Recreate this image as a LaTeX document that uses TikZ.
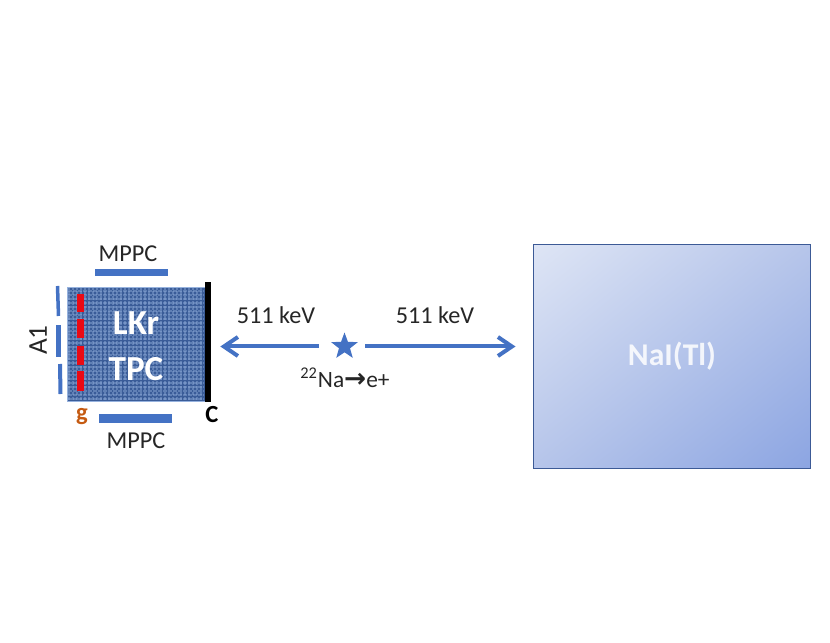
\documentclass[tikz,border=0pt]{standalone}
\usepackage{fontspec}
\setmainfont{Carlito}
\newfontfamily\pfeilfont{DejaVu Sans}
\usetikzlibrary{arrows.meta,shapes.geometric,shadings}
\definecolor{balken}{RGB}{68,114,196}
\definecolor{kasten}{RGB}{58,92,152}
\definecolor{gewebe}{RGB}{150,178,222}
\definecolor{rahmen}{RGB}{60,90,150}
\definecolor{hell}{RGB}{222,229,245}
\definecolor{mittel}{RGB}{182,197,234}
\definecolor{dunkel}{RGB}{140,165,226}
\definecolor{rot}{RGB}{235,10,20}
\definecolor{orange}{RGB}{197,90,17}
\definecolor{schrift}{RGB}{38,38,38}
\tikzset{
  beschriftung/.style={text=schrift, font=\fontsize{13.8}{16}\selectfont, inner sep=0pt},
  gewebelinie/.style={gewebe, opacity=0.42, line width=0.03cm, dash pattern=on 0.07cm off 0.03cm},
  pfeil/.style={balken, line width=0.08cm, -{Straight Barb[length=0.28cm,width=0.38cm,line width=0.08cm]}}
}
\begin{document}
\begin{tikzpicture}
    \useasboundingbox (0,0) rectangle (16.6,12.84);

    % TPC Kasten
    \node[fill=kasten, draw=gewebe, line width=0.1pt, minimum width=2.76cm, minimum height=2.28cm, inner sep=0pt] (tpc) at (2.72,5.96) {};
    \foreach \x in {1.38,1.46,...,4.08} {
        \draw[gewebelinie] (\x,4.84) -- (\x,7.08);
    }
    \foreach \y in {4.86,4.94,...,7.08} {
        \draw[gewebelinie] (1.36,\y) -- (4.08,\y);
    }

    % Kathode
    \node[fill=black, minimum width=0.12cm, minimum height=2.40cm, inner sep=0pt] (kathode) at (4.16,6.00) {};

    % Gitter
    \foreach \ya/\yb in {6.96/6.60, 6.45/6.07, 5.93/5.54, 5.43/5.02} {
        \fill[rot] (1.54,\ya) rectangle (1.68,\yb);
    }

    % MPPC Balken
    \fill[balken] (1.90,7.46) rectangle (3.36,7.32);
    \fill[balken] (1.98,4.56) rectangle (3.44,4.38);

    % A1 Balken
    \draw[balken, line width=0.07cm] (1.15,7.12) -- (1.17,6.52);
    \draw[balken, line width=0.10cm] (1.17,6.34) -- (1.17,5.70);
    \draw[balken, line width=0.08cm] (1.20,5.56) -- (1.21,4.96);

    % Beschriftungen
    \node[text=white, font=\fontsize{20}{24}\selectfont\bfseries, inner sep=0pt] (lkr) at (2.72,6.38) {LKr};
    \node[text=white, font=\fontsize{20}{24}\selectfont\bfseries, inner sep=0pt] (tpclabel) at (2.72,5.46) {TPC};
    \node[beschriftung] (mppcoben) at (2.56,7.76) {MPPC};
    \node[beschriftung] (mppcunten) at (2.72,4.02) {MPPC};
    \node[beschriftung, rotate=90, font=\fontsize{15.5}{18}\selectfont] (aeins) at (0.76,6.04) {A1};
    \node[text=orange, font=\fontsize{14}{16}\selectfont\bfseries, inner sep=0pt] (gitter) at (1.64,4.50) {g};
    \node[text=black, font=\fontsize{14}{16}\selectfont\bfseries, inner sep=0pt] (ckat) at (4.24,4.54) {C};

    % NaI Kasten
    \shade[upper left=hell, upper right=mittel, lower left=mittel, lower right=dunkel] (10.66,3.48) rectangle (16.20,7.94);
    \node[draw=rahmen, line width=0.02cm, minimum width=5.54cm, minimum height=4.46cm, inner sep=0pt] (nai) at (13.43,5.71) {};
    \node[text=white, opacity=0.85, font=\fontsize{18}{20}\selectfont\bfseries, inner sep=0pt] (nailabel) at (13.44,5.72) {NaI(Tl)};

    % Quelle
    \node[star, star points=5, star point ratio=2.4, fill=balken, minimum size=0.56cm, inner sep=0pt] (quelle) at (6.89,5.91) {};
    \node[beschriftung, font=\fontsize{13.3}{16}\selectfont] (zerfall) at (6.90,5.28) {\textsuperscript{22}Na{\pfeilfont\bfseries\fontsize{15}{16}\selectfont →}e+};

    % Pfeile
    \draw[pfeil, shorten <=0.35cm, shorten >=0.18cm] (quelle) -- (quelle -| kathode.east);
    \draw[pfeil, shorten <=0.25cm, shorten >=0.34cm] (quelle) -- (quelle -| nai.west);
    \node[beschriftung] (linkskev) at (5.52,6.54) {511 keV};
    \node[beschriftung] (rechtskev) at (8.70,6.54) {511 keV};
\end{tikzpicture}
\end{document}
